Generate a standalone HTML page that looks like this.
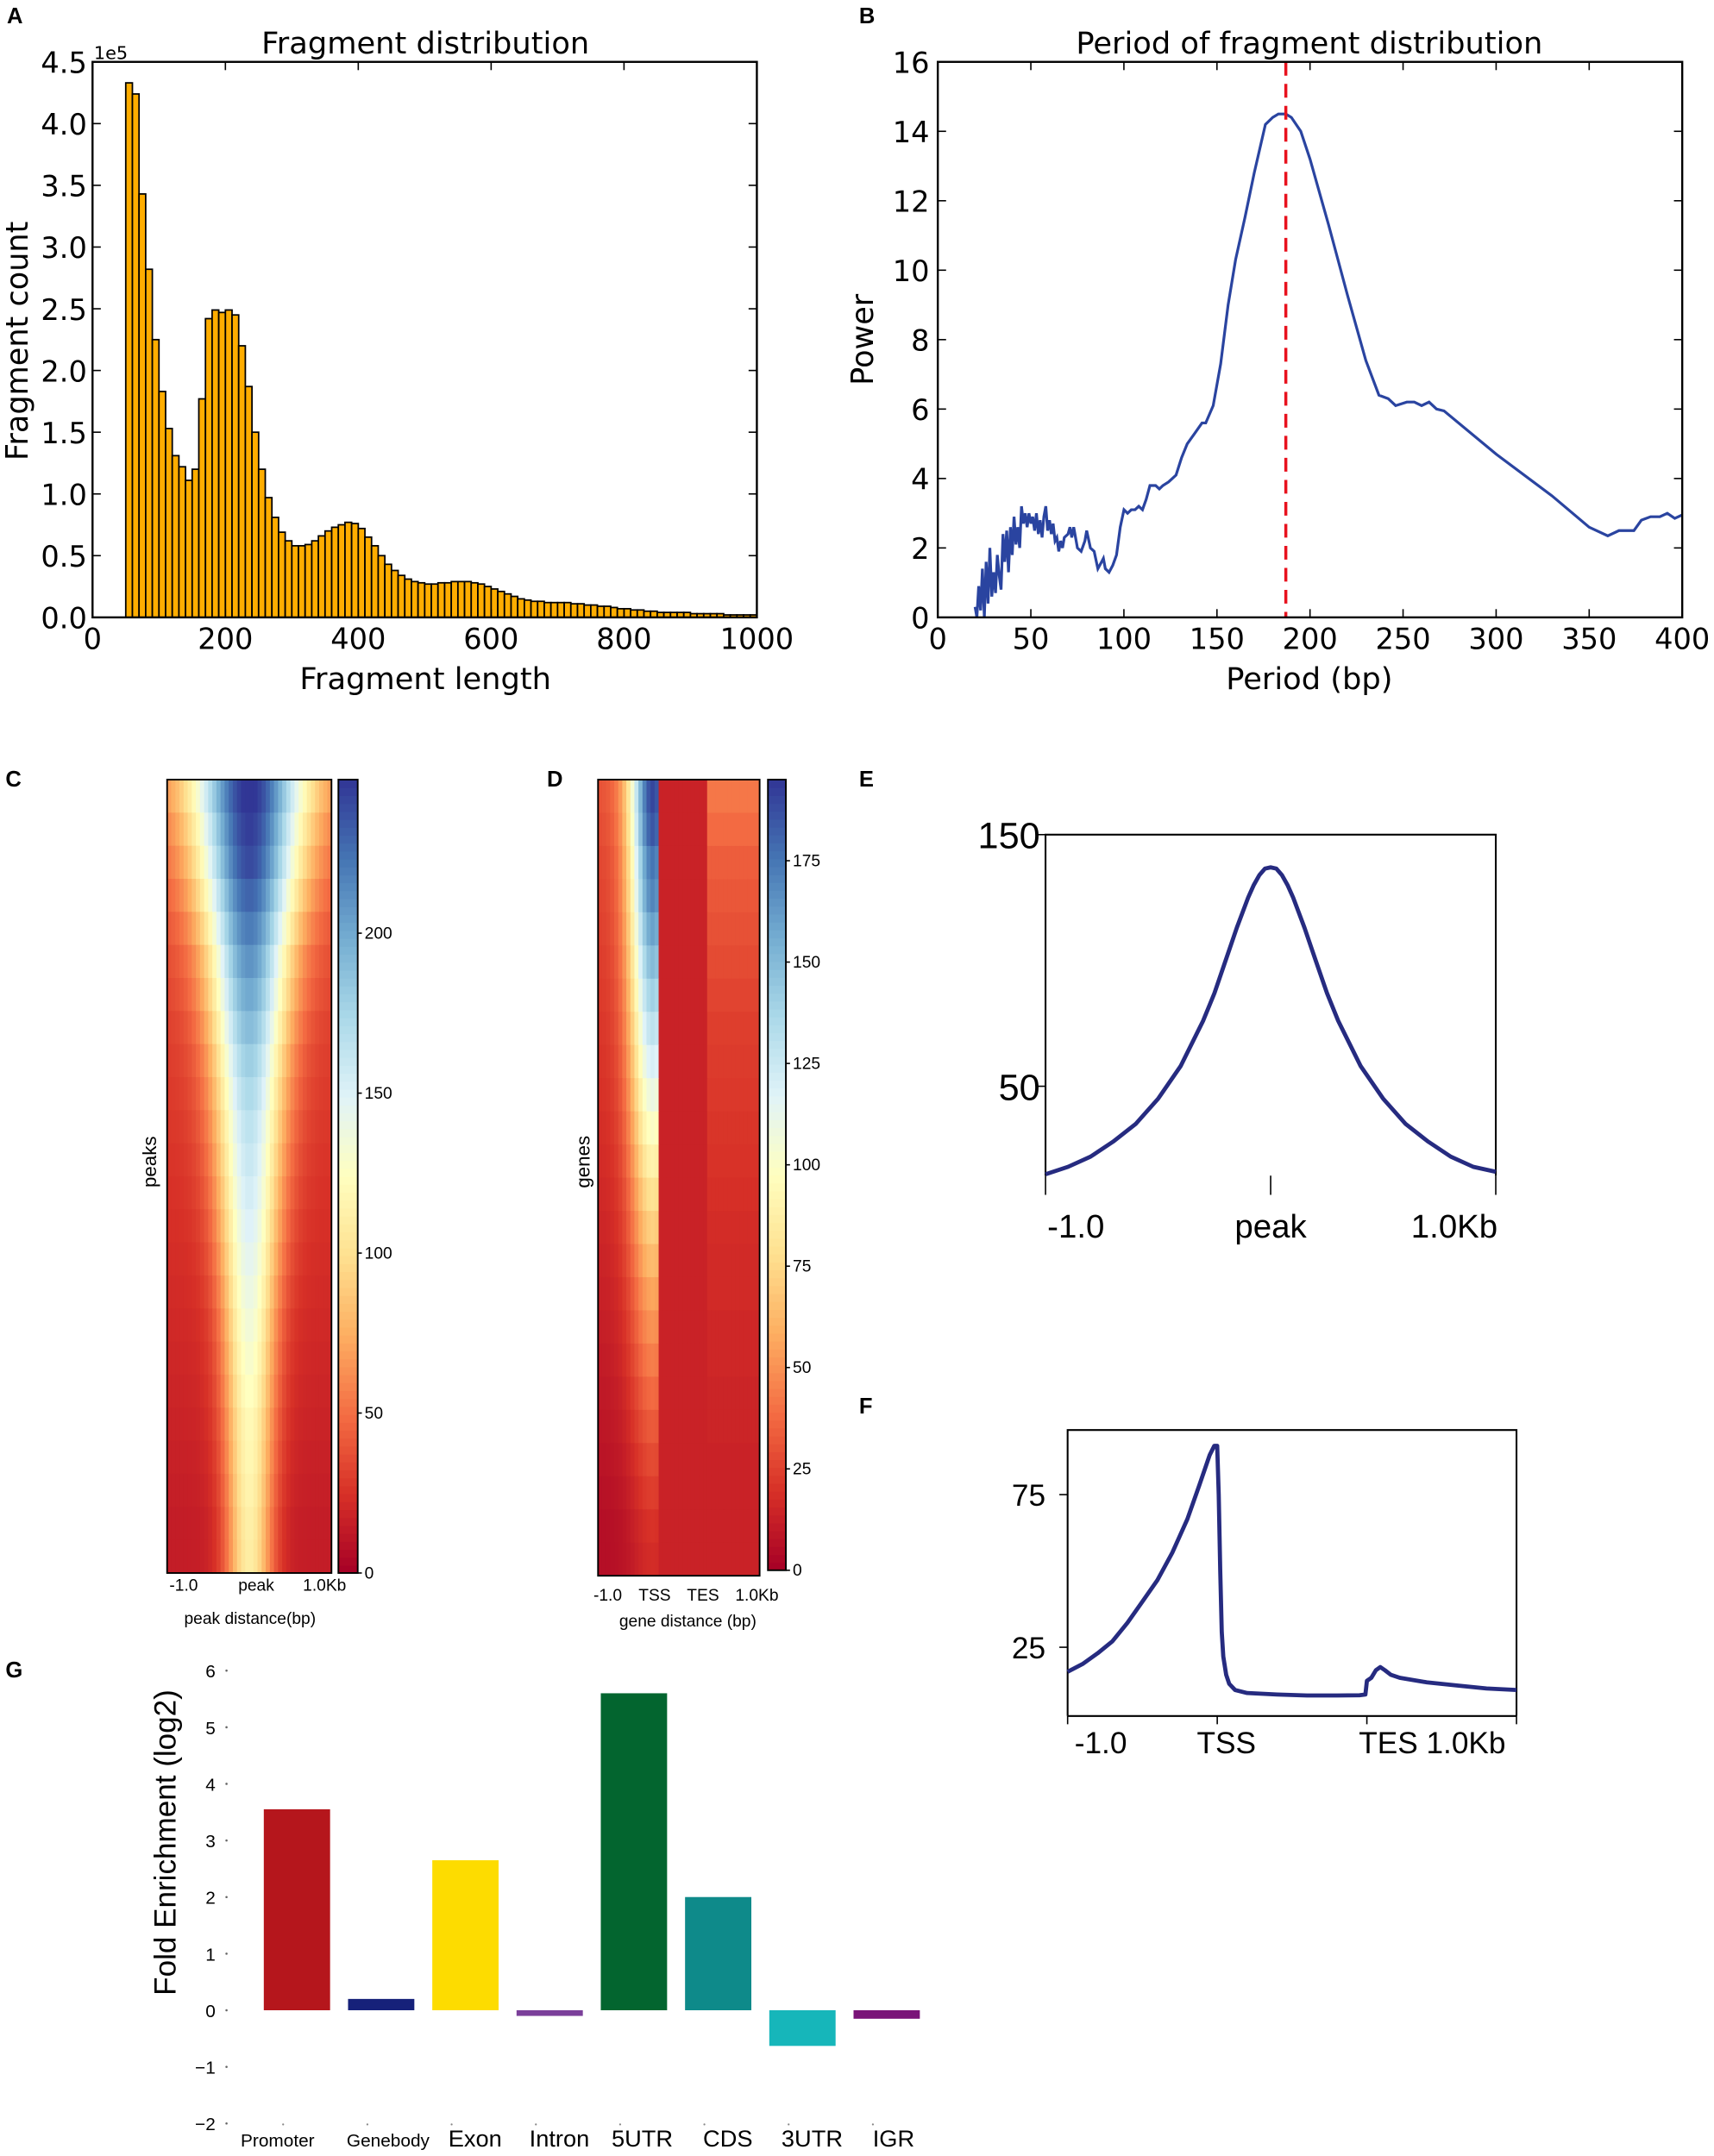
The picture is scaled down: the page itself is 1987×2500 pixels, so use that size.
<!DOCTYPE html>
<html><head><meta charset="utf-8"><style>
html,body{margin:0;padding:0;background:#fff;}
svg{display:block;}
text{font-family:"DejaVu Sans","Liberation Sans",sans-serif;fill:#000;}
.lab{font-family:"Liberation Sans",sans-serif;font-weight:bold;font-size:16px;}
.ar{font-family:"Liberation Sans",sans-serif;}
</style></head><body>
<svg id="fig" width="1987" height="2500" viewBox="0 0 1241 1568" preserveAspectRatio="none" xmlns="http://www.w3.org/2000/svg">
<text class="lab" x="5" y="17">A</text>
<text class="lab" x="622" y="17">B</text>
<text class="lab" x="4" y="572">C</text>
<text class="lab" x="396" y="572">D</text>
<text class="lab" x="622" y="572">E</text>
<text class="lab" x="622" y="1028">F</text>
<text class="lab" x="4" y="1220">G</text>
<g id="A"></g><g id="B"></g><g id="C"></g><g id="D"></g><g id="E"></g><g id="F"></g><g id="G"></g>
</svg>
<script>
// ---------- DATA ----------
const histStart = 50, histBin = 10;
const histCounts = [4.33,4.24,3.43,2.82,2.25,1.83,1.53,1.31,1.22,1.11,1.20,1.77,2.42,2.49,2.47,2.49,2.45,2.20,1.87,1.50,1.20,0.97,0.81,0.69,0.62,0.58,0.58,0.59,0.62,0.66,0.70,0.73,0.75,0.77,0.76,0.72,0.65,0.58,0.50,0.43,0.38,0.34,0.31,0.29,0.28,0.27,0.27,0.28,0.28,0.29,0.29,0.29,0.28,0.27,0.25,0.23,0.21,0.19,0.17,0.15,0.14,0.13,0.13,0.12,0.12,0.12,0.12,0.11,0.11,0.10,0.10,0.09,0.09,0.08,0.07,0.07,0.06,0.06,0.05,0.05,0.04,0.04,0.04,0.04,0.04,0.03,0.03,0.03,0.03,0.03,0.02,0.02,0.02,0.02,0.02];
const histXTicks = [0,200,400,600,800,1000];
const histYTicks = [0,0.5,1.0,1.5,2.0,2.5,3.0,3.5,4.0,4.5];

const periodX = [20,21,22,23,24,25,26,27,28,29,30,31,32,33,34,35,36,37,38,39,40,41,42,43,44,45,46,47,48,49,50,51,52,53,54,55,56,57,58,59,60,61,62,63,64,65,66,67,68,70,71,72,73,75,77,79,80,82,84,86,88,89,90,92,94,96,98,100,102,104,106,108,110,112,114,117,119,121,124,128,131,134,138,142,144,148,152,156,160,165,170,176,180,183,187,190,195,200,210,220,230,237,242,246,252,256,260,264,268,272,300,330,350,360,366,370,374,378,383,388,392,396,400];
const periodPower = [0.3,0,0.9,0.2,1.4,0,1.6,0.4,2.0,0.6,1.3,0.7,1.8,1.2,0.8,2.4,1.6,2.5,1.3,2.6,1.8,2.9,2.1,2.6,2.0,3.2,2.7,3.0,2.6,3.0,2.7,2.9,2.5,3.0,2.4,2.8,2.3,2.9,3.2,2.5,2.8,2.4,2.7,2.2,2.3,1.9,2.2,2.0,2.3,2.4,2.6,2.3,2.6,2.0,1.9,2.2,2.5,2.0,1.9,1.4,1.6,1.7,1.4,1.3,1.5,1.8,2.6,3.1,3.0,3.1,3.1,3.2,3.1,3.4,3.8,3.8,3.7,3.8,3.9,4.1,4.6,5.0,5.3,5.6,5.6,6.1,7.3,9.0,10.3,11.5,12.8,14.2,14.4,14.5,14.5,14.4,14.0,13.2,11.3,9.3,7.4,6.4,6.3,6.1,6.2,6.2,6.1,6.2,6.0,5.95,4.7,3.5,2.6,2.35,2.5,2.5,2.5,2.8,2.9,2.9,3.0,2.85,2.95];
const periodMarker = 187;
const periodXTicks = [0,50,100,150,200,250,300,350,400];
const periodYTicks = [0,2,4,6,8,10,12,14,16];

const cPeak  = [250,245,240,230,220,210,200,190,180,172,165,160,155,150,145,140,135,130,125,120,118,115,112,110];
const cWidth = [9.5,9,8.5,8,7.5,7,6.8,6.5,6.2,6,5.8,5.6,5.4,5.2,5,4.8,4.6,4.5,4.4,4.3,4.2,4.1,4,4];
const cBase  = [45,42,40,38,36,34,32,30,29,28,27,26,25,24,23,22,21,20,19,18,17,16,15,15];
const cTicks = [0,50,100,150,200];
const cXLabels = ["-1.0","peak","1.0Kb"];

const dTss  = [190,185,175,170,160,150,140,130,120,110,100,90,80,72,64,56,50,44,38,33,28,24,20,18];
const dTes  = [30,26,22,20,18,16,14,12,11,10,9,8,7,6,5,5,4,4,3,3,2,2,2,2];
const dBase = [30,28,26,25,24,23,22,21,20,19,18,17,16,15,14,13,12,11,10,9,8,7,6,6];
const dTicks = [0,25,50,75,100,125,150,175];
const dXLabels = ["-1.0","TSS","TES","1.0Kb"];

const eX = [-1000,-900,-800,-700,-600,-500,-400,-300,-250,-200,-150,-100,-75,-50,-25,0,25,50,75,100,150,200,250,300,400,500,600,700,800,900,1000];
const eY = [15,18,22,28,35,45,58,76,87,100,113,125,130,134,136.5,137,136.5,134,130,125,113,100,87,76,58,45,35,28,22,18,16];
const eYTicks = [50,150];
const eXLabels = ["-1.0","peak","1.0Kb"];

const fX = [0,10,20,30,40,50,60,70,80,88,95,98,100,101,102,103,104,106,108,112,120,140,160,180,195,199,200,203,206,209,212,216,222,240,260,280,300];
const fY = [17,19.5,23,27,33,40,47,56,67,78,88,91,91,75,50,30,22,16,13,11,10,9.5,9.2,9.2,9.3,9.5,14,15,17.5,18.5,17.5,16,15,13.5,12.5,11.5,11];
const fYTicks = [25,75];
const fXLabels = ["-1.0","TSS","TES 1.0Kb"];

const gCats = ["Promoter","Genebody","Exon","Intron","5UTR","CDS","3UTR","IGR"];
const gVals = [3.55,0.2,2.65,-0.1,5.6,2.0,-0.63,-0.15];
const gCols = ["#b5161c","#16217a","#fddc00","#7b3f9a","#03652f","#0e8a8a","#16b6ba","#7a1478"];
const gTicks = [-2,-1,0,1,2,3,4,5,6];

// ---------- helpers ----------
const NS="http://www.w3.org/2000/svg";
function mk(parent,tag,attrs,txt){const e=document.createElementNS(NS,tag);for(const k in attrs)e.setAttribute(k,attrs[k]);if(txt!==undefined)e.textContent=txt;parent.appendChild(e);return e;}
function lin(d0,d1,r0,r1){return v=>r0+(v-d0)/(d1-d0)*(r1-r0);}
const stops=[[0,[165,0,38]],[0.1,[215,48,39]],[0.2,[244,109,67]],[0.3,[253,174,97]],[0.4,[254,224,144]],[0.5,[255,255,191]],[0.6,[224,243,248]],[0.7,[171,217,233]],[0.8,[116,173,209]],[0.9,[69,117,180]],[1,[49,54,149]]];
function cmap(t){t=Math.max(0,Math.min(1,t));for(let i=1;i<stops.length;i++){if(t<=stops[i][0]){const a=stops[i-1],b=stops[i];const f=(t-a[0])/(b[0]-a[0]);const c=a[1].map((v,j)=>Math.round(v+(b[1][j]-v)*f));return `rgb(${c[0]},${c[1]},${c[2]})`;}}return 'rgb(49,54,149)';}

// ---------- A ----------
(function(){
const g=document.getElementById('A');
const L=67,R=548,T=45,B=449;
const x=lin(0,1000,L,R), y=lin(0,4.5,B,T);
for(let i=0;i<histCounts.length;i++){
  const x0=histStart+i*histBin;
  const r=mk(g,'rect',{x:x(x0),y:y(histCounts[i]),width:x(x0+histBin)-x(x0),height:B-y(histCounts[i]),fill:'#ffad00',stroke:'#000','stroke-width':1.1});
  
  
}
const ax=mk(g,'rect',{x:L,y:T,width:R-L,height:B-T,fill:'none',stroke:'#000','stroke-width':1.5});

histXTicks.forEach(v=>{mk(g,'line',{x1:x(v),x2:x(v),y1:B,y2:B-6,stroke:'#000'});mk(g,'line',{x1:x(v),x2:x(v),y1:T,y2:T+6,stroke:'#000'});
  const t=mk(g,'text',{x:x(v),y:B+23,'text-anchor':'middle','font-size':21},String(v));});
histYTicks.forEach(v=>{mk(g,'line',{x1:L,x2:L+6,y1:y(v),y2:y(v),stroke:'#000'});mk(g,'line',{x1:R,x2:R-6,y1:y(v),y2:y(v),stroke:'#000'});
  const t=mk(g,'text',{x:L-4,y:y(v)+8,'text-anchor':'end','font-size':21},v.toFixed(1));});
let t=mk(g,'text',{x:68,y:43,'font-size':13},'1e5');
t=mk(g,'text',{x:308,y:39,'text-anchor':'middle','font-size':22},'Fragment distribution');
t=mk(g,'text',{x:308,y:501,'text-anchor':'middle','font-size':22},'Fragment length');
t=mk(g,'text',{x:20,y:248,'text-anchor':'middle','font-size':22,transform:'rotate(-90 20 248)'},'Fragment count');
})();

// ---------- B ----------
(function(){
const g=document.getElementById('B');
const L=679,R=1218,T=45,B=449;
const x=lin(0,400,L,R), y=lin(0,16,B,T);
periodXTicks.forEach(v=>{mk(g,'line',{x1:x(v),x2:x(v),y1:B,y2:B-6,stroke:'#000'});mk(g,'line',{x1:x(v),x2:x(v),y1:T,y2:T+6,stroke:'#000'});
  const t=mk(g,'text',{x:x(v),y:B+23,'text-anchor':'middle','font-size':21},String(v));});
periodYTicks.forEach(v=>{mk(g,'line',{x1:L,x2:L+6,y1:y(v),y2:y(v),stroke:'#000'});mk(g,'line',{x1:R,x2:R-6,y1:y(v),y2:y(v),stroke:'#000'});
  const t=mk(g,'text',{x:L-6,y:y(v)+8,'text-anchor':'end','font-size':21},String(v));});
const pts=periodX.map((v,i)=>x(v).toFixed(1)+','+y(periodPower[i]).toFixed(1)).join(' ');
const pl=mk(g,'polyline',{points:pts,fill:'none',stroke:'#2a44a0','stroke-width':2});

const ml=mk(g,'line',{x1:x(periodMarker),x2:x(periodMarker),y1:T,y2:B,stroke:'#e8121e','stroke-width':2.2,'stroke-dasharray':'10,6'});

const fr=mk(g,'rect',{x:L,y:T,width:R-L,height:B-T,fill:'none',stroke:'#000','stroke-width':1.5});

let t=mk(g,'text',{x:948,y:39,'text-anchor':'middle','font-size':22},'Period of fragment distribution');
t=mk(g,'text',{x:948,y:501,'text-anchor':'middle','font-size':22},'Period (bp)');
t=mk(g,'text',{x:632,y:247,'text-anchor':'middle','font-size':22,transform:'rotate(-90 632 247)'},'Power');
})();

// ---------- heatmap drawer ----------
function heat(g,L,R,T,B,nCols,rows,valFn,vmax,name){
  const nRows=rows; const cw=(R-L)/nCols, rh=(B-T)/nRows;
  for(let r=0;r<nRows;r++)for(let c=0;c<nCols;c++){
    const e=mk(g,'rect',{x:(L+c*cw).toFixed(2),y:(T+r*rh).toFixed(2),width:(cw+0.4).toFixed(2),height:(rh+0.4).toFixed(2),fill:cmap(valFn(r,c)/vmax)});
    
    
  }
  mk(g,'rect',{x:L,y:T,width:R-L,height:B-T,fill:'none',stroke:'#000','stroke-width':1.2});
}
function cbar(g,L,R,T,B,vmax,ticks,name){
  for(let i=0;i<100;i++){mk(g,'rect',{x:L,y:(B-(i+1)*(B-T)/100).toFixed(2),width:R-L,height:((B-T)/100+0.4).toFixed(2),fill:cmap((i+0.5)/100)});}
  const f=mk(g,'rect',{x:L,y:T,width:R-L,height:B-T,fill:'none',stroke:'#000','stroke-width':1.2});
  
  const y=lin(0,vmax,B,T);
  ticks.forEach(v=>{mk(g,'line',{x1:R,x2:R+3,y1:y(v),y2:y(v),stroke:'#000'});
    const t=mk(g,'text',{x:R+5,y:y(v)+4,'font-size':12,class:'ar'},String(v));});
}

// ---------- C ----------
(function(){
const g=document.getElementById('C');
const L=121,R=240,T=567,B=1144,N=40,ctr=19.5;
heat(g,L,R,T,B,N,cPeak.length,(r,c)=>{const d=c-ctr;return cBase[r]+(cPeak[r]-cBase[r])*Math.exp(-d*d/(2*cWidth[r]*cWidth[r]));},248,'heatmap-cell-c');
cbar(g,245,259,567,1144,248,cTicks,'colorbar-c');
const xs=[L+12,(L+R)/2+5,R-5];
cXLabels.forEach((s,i)=>{const t=mk(g,'text',{x:xs[i],y:1157,'text-anchor':'middle','font-size':12,class:'ar'},s);});
let t=mk(g,'text',{x:181,y:1181,'text-anchor':'middle','font-size':12,class:'ar'},'peak distance(bp)');
t=mk(g,'text',{x:113,y:845,'text-anchor':'middle','font-size':14,class:'ar',transform:'rotate(-90 113 845)'},'peaks');
})();

// ---------- D ----------
(function(){
const g=document.getElementById('D');
const L=433,R=550,T=567,B=1146,N=40,tss=14.4,tes=26.3;
heat(g,L,R,T,B,N,dTss.length,(r,c)=>{
  if(c<tss){const d=c-13;return dBase[r]+ (dTss[r]-dBase[r])*Math.exp(-d*d/(2*16));}
  if(c<tes)return 14;
  return 12+dTes[r];},195,'heatmap-cell-d');
cbar(g,556,569,567,1142,195,dTicks,'colorbar-d');
const xs=[440,474,509,548];
dXLabels.forEach((s,i)=>{const t=mk(g,'text',{x:xs[i],y:1164,'text-anchor':'middle','font-size':12,class:'ar'},s);});
let t=mk(g,'text',{x:498,y:1183,'text-anchor':'middle','font-size':12,class:'ar'},'gene distance (bp)');
t=mk(g,'text',{x:427,y:845,'text-anchor':'middle','font-size':14,class:'ar',transform:'rotate(-90 427 845)'},'genes');
})();

// ---------- E ----------
(function(){
const g=document.getElementById('E');
const L=757,R=1083,T=607,B=855;
const x=lin(-1000,1000,L,R), y=lin(50,150,790,607);
mk(g,'polyline',{points:`${L},${B} ${L},${T} ${R},${T} ${R},${B}`,fill:'none',stroke:'#000','stroke-width':1.3});
eYTicks.forEach(v=>{mk(g,'line',{x1:L-6,x2:L,y1:y(v),y2:y(v),stroke:'#000'});
  const t=mk(g,'text',{x:L-4,y:y(v)+10,'text-anchor':'end','font-size':27,class:'ar'},String(v));});
[L,(L+R)/2,R].forEach((xx,i)=>{mk(g,'line',{x1:xx,x2:xx,y1:B,y2:B+14,stroke:'#000'});
  const t=mk(g,'text',{x:xx+(i==0?22:i==2?-30:0),y:B+45,'text-anchor':'middle','font-size':24,class:'ar'},eXLabels[i]);});
const pts=eX.map((v,i)=>x(v).toFixed(1)+','+y(eY[i]).toFixed(1)).join(' ');
const p=mk(g,'polyline',{points:pts,fill:'none',stroke:'#262b80','stroke-width':3,'stroke-linejoin':'round'});

})();

// ---------- F ----------
(function(){
const g=document.getElementById('F');
const L=773,R=1098,T=1040,B=1248;
const x=lin(0,300,L,R), y=lin(25,75,1198,1087);
mk(g,'polyline',{points:`${L},${B} ${L},${T} ${R},${T} ${R},${B}`,fill:'none',stroke:'#000','stroke-width':1.3});
mk(g,'line',{x1:L,x2:R,y1:B,y2:B,stroke:'#000','stroke-width':1.3});
fYTicks.forEach(v=>{mk(g,'line',{x1:L-6,x2:L,y1:y(v),y2:y(v),stroke:'#000'});
  const t=mk(g,'text',{x:L-16,y:y(v)+8,'text-anchor':'end','font-size':22,class:'ar'},String(v));});
[0,100,200,300].forEach(v=>mk(g,'line',{x1:x(v),x2:x(v),y1:B,y2:B+6,stroke:'#000'}));
const fxs=[797,888,1037];
fXLabels.forEach((s,i)=>{const t=mk(g,'text',{x:fxs[i],y:1275,'text-anchor':'middle','font-size':22,class:'ar'},s);});
const pts=fX.map((v,i)=>x(v).toFixed(1)+','+y(fY[i]).toFixed(1)).join(' ');
const p=mk(g,'polyline',{points:pts,fill:'none',stroke:'#262b80','stroke-width':3,'stroke-linejoin':'round'});

})();

// ---------- G ----------
(function(){
const g=document.getElementById('G');
const y=lin(0,6,1462,1215);
const x0=215, step=61, bw=48;
gTicks.forEach(v=>{mk(g,'circle',{cx:164,cy:y(v),r:0.8,fill:'#666'});
  const t=mk(g,'text',{x:156,y:y(v)+5,'text-anchor':'end','font-size':13,class:'ar'},v<0?'\u2212'+(-v):String(v));});
const sizes=[13,13,17,17,17,17,17,17];
const offs=[-14,5,7,7,6,7,7,5];
gVals.forEach((v,i)=>{
  const cx=x0+i*step;
  const r=mk(g,'rect',{x:cx-bw/2,y:Math.min(y(v),y(0)),width:bw,height:Math.abs(y(v)-y(0)),fill:gCols[i]});
  
  
  mk(g,'circle',{cx:cx-10,cy:1545,r:0.7,fill:'#888'});
  const t=mk(g,'text',{x:cx+offs[i],y:1561,'text-anchor':'middle','font-size':sizes[i],class:'ar'},gCats[i]);
  
});
const t=mk(g,'text',{x:127,y:1340,'text-anchor':'middle','font-size':22,class:'ar',transform:'rotate(-90 127 1340)'},'Fold Enrichment (log2)');

})();
</script>
</body></html>
